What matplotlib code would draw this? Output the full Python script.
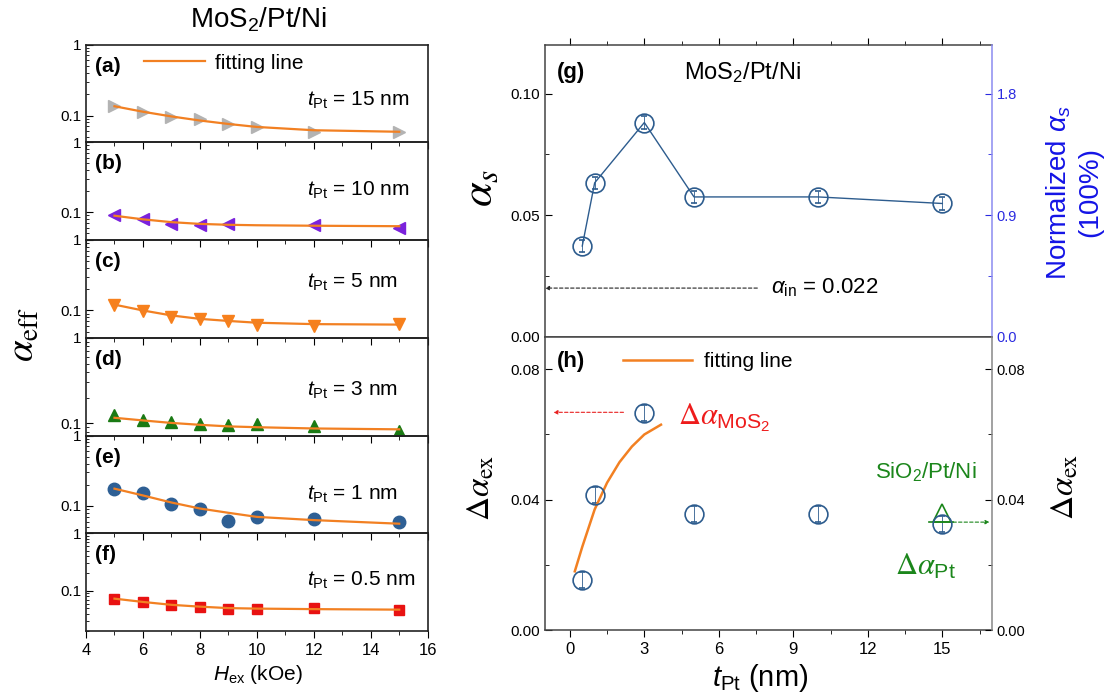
import matplotlib
matplotlib.use("Agg")
import matplotlib.pyplot as plt
from matplotlib import ticker

plt.rcParams['font.family'] = ['Liberation Sans', 'DejaVu Sans']
plt.rcParams['mathtext.fontset'] = 'custom'
plt.rcParams['mathtext.rm'] = 'Liberation Sans'
plt.rcParams['mathtext.it'] = 'Liberation Sans:italic'
plt.rcParams['mathtext.bf'] = 'Liberation Sans:bold'

# ---- data: left panels, alpha_eff vs H_ex ----
H_ex = [5, 6, 7, 8, 9, 10, 12, 15]
H_ex_b = [5, 6, 7, 8, 9, 12, 15]
a_15 = [0.138, 0.111, 0.095, 0.090, 0.076, 0.068, 0.059, 0.059]
a_10 = [0.091, 0.081, 0.068, 0.065, 0.068, 0.065, 0.060]
a_5 = [0.121, 0.098, 0.082, 0.076, 0.070, 0.063, 0.061, 0.064]
a_3 = [0.125, 0.108, 0.104, 0.099, 0.095, 0.097, 0.093, 0.081]
a_1 = [0.176, 0.153, 0.108, 0.092, 0.062, 0.070, 0.066, 0.059]
a_05 = [0.073, 0.065, 0.056, 0.053, 0.048, 0.048, 0.050, 0.046]

fit_15 = [0.135, 0.113, 0.097, 0.085, 0.076, 0.069, 0.062, 0.059]
fit_10 = [0.089, 0.079, 0.072, 0.068, 0.066, 0.065, 0.064, 0.063]
fit_5 = [0.121, 0.100, 0.085, 0.076, 0.071, 0.067, 0.064, 0.063]
fit_3 = [0.116, 0.108, 0.101, 0.096, 0.092, 0.090, 0.087, 0.085]
fit_1 = [0.176, 0.141, 0.112, 0.092, 0.080, 0.070, 0.063, 0.056]
fit_05 = [0.073, 0.064, 0.057, 0.053, 0.050, 0.049, 0.048, 0.047]

panel_tags = ['(a)', '(b)', '(c)', '(d)', '(e)', '(f)']
thick_labels = ['15 nm', '10 nm', '5 nm', '3 nm', '1 nm', '0.5 nm']
bottoms = [0.042, 0.040, 0.041, 0.072, 0.041, 0.020]

# ---- data: right panels vs t_Pt ----
t_Pt = [0.5, 1, 3, 5, 10, 15]
alpha_s = [0.0373, 0.0633, 0.0881, 0.0575, 0.0575, 0.0548]
alpha_s_err = [0.0025, 0.0025, 0.0025, 0.0025, 0.0025, 0.0025]
d_alpha_ex = [0.0154, 0.0415, 0.0665, 0.0356, 0.0356, 0.0326]
d_alpha_err = [0.0025, 0.0025, 0.0025, 0.0025, 0.0025, 0.0025]
t_fit = [0.2, 0.5, 1.0, 1.5, 2.0, 2.5, 3.0, 3.67]
d_alpha_fit = [0.0180, 0.0255, 0.0370, 0.0452, 0.0515, 0.0563, 0.0600, 0.0630]
sio2_t = [15]
sio2_d_alpha = [0.036]
alpha_in = 0.02

orange = '#f28022'
blue_c = '#2d5c8e'
green = '#1b861b'

fig = plt.figure(figsize=(11.14, 7.0), dpi=100)

W, Hh = 1114.0, 700.0

def box(x0, y0, x1, y1):
    return [x0 / W, 1 - y1 / Hh, (x1 - x0) / W, (y1 - y0) / Hh]

series = [
    (H_ex, a_15, fit_15, '>', '#b3b3b3'),
    (H_ex_b, a_10, fit_10, '<', '#7b22dc'),
    (H_ex, a_5, fit_5, 'v', '#f7801c'),
    (H_ex, a_3, fit_3, '^', '#1a7a14'),
    (H_ex, a_1, fit_1, 'o', '#2e5f94'),
    (H_ex, a_05, fit_05, 's', '#e81212'),
]
text_y = [0.43, 0.51, 0.57, 0.46, 0.40, 0.52]

top0, ph = 44.5, 97.75
for i, (xs, ys, fy, mk, col) in enumerate(series):
    ax = fig.add_axes(box(86, top0 + i * ph, 427.7, top0 + (i + 1) * ph))
    ax.plot(xs, ys, linestyle='none', marker=mk, ms=9 if mk != 's' else 7.5,
            color=col, zorder=2)
    fl, = ax.plot(H_ex, fy, color=orange, lw=1.6, zorder=3)
    ax.set_yscale('log')
    ax.set_ylim(bottoms[i], 1)
    ax.set_xlim(4, 16)
    ax.yaxis.set_major_locator(ticker.FixedLocator([0.1, 1]))
    ax.yaxis.set_major_formatter(ticker.FuncFormatter(lambda v, p: f"{v:g}"))
    ax.yaxis.set_minor_locator(ticker.LogLocator(base=10, subs=range(2, 10)))
    ax.yaxis.set_minor_formatter(ticker.NullFormatter())
    ax.xaxis.set_major_locator(ticker.MultipleLocator(2))
    ax.xaxis.set_minor_locator(ticker.MultipleLocator(1))
    ax.tick_params(axis='y', which='both', direction='in', labelsize=11)
    ax.tick_params(axis='y', which='major', length=5)
    ax.tick_params(axis='y', which='minor', length=2.5)
    ax.tick_params(axis='x', which='both', direction='out', labelsize=12)
    ax.tick_params(axis='x', which='major', length=5)
    ax.tick_params(axis='x', which='minor', length=3)
    if i < 5:
        ax.tick_params(axis='x', labelbottom=False)
    for s in ax.spines.values():
        s.set_linewidth(1.2)
        s.set_color('#222222')
    ax.text(0.026, 0.78, panel_tags[i], transform=ax.transAxes, fontsize=15,
            fontweight='bold', va='center', ha='left')
    ax.text(0.647, text_y[i], r'$t_{\mathrm{Pt}}$ = ' + thick_labels[i],
            transform=ax.transAxes, fontsize=15, va='center', ha='left')
    if i == 0:
        fl.set_label('fitting line')
        ax.legend(loc='center left', bbox_to_anchor=(0.17, 0.81), frameon=False,
                  fontsize=15, handlelength=2.9, handletextpad=0.5,
                  borderpad=0, borderaxespad=0)
    ax.patch.set_alpha(0)

fig.text(258 / W, 1 - 20 / Hh, r'MoS$_2$/Pt/Ni', fontsize=20, ha='center', va='center')
fig.text(24 / W, 1 - 335 / Hh, r'$\alpha_{\mathrm{eff}}$', fontsize=28, rotation=90,
         ha='center', va='center', math_fontfamily='stix')
fig.text(258 / W, 1 - 675 / Hh, r'$H_{\mathrm{ex}}$ (kOe)', fontsize=15,
         ha='center', va='center')

# ---- panel (g) ----
axg = fig.add_axes(box(545, 45, 992, 336.7))
axg.errorbar(t_Pt, alpha_s, yerr=alpha_s_err, color=blue_c, lw=1.0, marker='o',
             ms=13.5, mfc='none', mec=blue_c, mew=1.2, elinewidth=0.6, capsize=2.5,
             capthick=0.6)
axg.set_xlim(-1, 17)
axg.set_ylim(0, 0.12)
axg.xaxis.set_major_locator(ticker.MultipleLocator(3))
axg.xaxis.set_minor_locator(ticker.MultipleLocator(1.5))
axg.yaxis.set_major_locator(ticker.FixedLocator([0, 0.05, 0.10]))
axg.yaxis.set_major_formatter(ticker.FormatStrFormatter('%.2f'))
axg.yaxis.set_minor_locator(ticker.MultipleLocator(0.025))
axg.tick_params(axis='x', which='both', direction='out', labelbottom=False, top=True)
axg.tick_params(axis='y', which='both', direction='in', labelsize=11)
axg.tick_params(which='major', length=5)
axg.tick_params(which='minor', length=3)
axg.spines['right'].set_visible(False)
for s in ['left', 'top', 'bottom']:
    axg.spines[s].set_color('#444444')
    axg.spines[s].set_linewidth(1.1)
axg.annotate('', xy=(-1, alpha_in), xytext=(7.55, alpha_in),
             arrowprops=dict(arrowstyle='-|>', linestyle=(0, (3, 2)), lw=0.8,
                             color='#222222', mutation_scale=6, shrinkA=0, shrinkB=0))
axg.text(8.1, alpha_in, r'$\alpha_{\mathrm{in}}$ = 0.022', fontsize=16,
         ha='left', va='center')
axg.text(-0.53, 0.1087, '(g)', fontsize=16, fontweight='bold', ha='left', va='center')
axg.text(4.6, 0.1087, r'MoS$_2$/Pt/Ni', fontsize=17, ha='left', va='center')

axg2 = axg.twinx()
axg2.set_ylim(0, 2.16)
axg2.yaxis.set_major_locator(ticker.FixedLocator([0, 0.9, 1.8]))
axg2.yaxis.set_major_formatter(ticker.FormatStrFormatter('%.1f'))
axg2.yaxis.set_minor_locator(ticker.MultipleLocator(0.45))
axg2.tick_params(axis='y', which='both', direction='in', colors='#2a2ae0',
                 labelsize=10.5)
axg2.tick_params(which='major', length=5)
axg2.tick_params(which='minor', length=3)
axg2.spines['right'].set_color('#8c8cf0')
axg2.spines['right'].set_linewidth(1.1)
for s in ['left', 'top', 'bottom']:
    axg2.spines[s].set_visible(False)

fig.text(481 / W, 1 - 188 / Hh, r'$\alpha_s$', fontsize=32, rotation=90,
         ha='center', va='center', math_fontfamily='stix')
fig.text(1074 / W, 1 - 192 / Hh, 'Normalized ' + r'$\alpha_s$' + '\n(100%)',
         fontsize=20, rotation=90, ha='center', va='center', color='#1414e6',
         multialignment='center', linespacing=1.2)

# ---- panel (h) ----
axh = fig.add_axes(box(545, 336.7, 992, 630))
axh.errorbar(t_Pt, d_alpha_ex, yerr=d_alpha_err, color=blue_c, linestyle='none',
             marker='o', ms=13.5, mfc='none', mec=blue_c, mew=1.2, elinewidth=0.6,
             capsize=2.5, capthick=0.6)
axh.plot(t_fit, d_alpha_fit, color=orange, lw=1.8, label='fitting line')
axh.plot(sio2_t, sio2_d_alpha, linestyle='none', marker='^', ms=13, mfc='none',
         mec=green, mew=1.2)
axh.set_xlim(-1, 17)
axh.set_ylim(0, 0.09)
axh.xaxis.set_major_locator(ticker.MultipleLocator(3))
axh.xaxis.set_minor_locator(ticker.MultipleLocator(1.5))
axh.yaxis.set_major_locator(ticker.FixedLocator([0, 0.04, 0.08]))
axh.yaxis.set_major_formatter(ticker.FormatStrFormatter('%.2f'))
axh.yaxis.set_minor_locator(ticker.MultipleLocator(0.02))
axh.tick_params(axis='x', which='both', direction='out', labelsize=12)
axh.tick_params(axis='y', which='both', direction='in', labelsize=11)
axh.tick_params(which='major', length=5)
axh.tick_params(which='minor', length=3)
axh.spines['right'].set_visible(False)
for s in ['left', 'top', 'bottom']:
    axh.spines[s].set_color('#444444')
    axh.spines[s].set_linewidth(1.1)
axh.legend(loc='center left', bbox_to_anchor=(0.1745, 0.914), frameon=False,
           fontsize=15, handlelength=3.3, handletextpad=0.58, borderpad=0,
           borderaxespad=0)
axh.text(-0.53, 0.0825, '(h)', fontsize=16, fontweight='bold', ha='left', va='center')

# red arrow to left axis
axh.annotate('', xy=(-0.66, 0.0668), xytext=(2.16, 0.0668),
             arrowprops=dict(arrowstyle='-|>', linestyle=(0, (3, 2)), lw=0.8,
                             color='#e82020', mutation_scale=6, shrinkA=0, shrinkB=0))
axh.text(4.37, 0.0652, r'$\Delta\alpha_{\mathregular{MoS_2}}$', fontsize=22,
         color='#ee1c1c', ha='left', va='center', math_fontfamily='stix')
# green arrow to right axis
axh.plot([14.45, 15.43], [0.0331, 0.0331], color=green, lw=1.2)
axh.annotate('', xy=(16.9, 0.0331), xytext=(15.43, 0.0331),
             arrowprops=dict(arrowstyle='-|>', linestyle=(0, (3, 2)), lw=0.8,
                             color=green, mutation_scale=6, shrinkA=0, shrinkB=0))
axh.text(12.28, 0.0483, r'SiO$_2$/Pt/Ni', fontsize=16, color=green,
         ha='left', va='center')
axh.text(13.1, 0.0194, r'$\Delta\alpha_{\mathregular{Pt}}$', fontsize=22,
         color=green, ha='left', va='center', math_fontfamily='stix')

axh2 = axh.twinx()
axh2.set_ylim(0, 0.09)
axh2.yaxis.set_major_locator(ticker.FixedLocator([0, 0.04, 0.08]))
axh2.yaxis.set_major_formatter(ticker.FormatStrFormatter('%.2f'))
axh2.yaxis.set_minor_locator(ticker.MultipleLocator(0.02))
axh2.tick_params(axis='y', which='both', direction='in', labelsize=10.5)
axh2.tick_params(which='major', length=5)
axh2.tick_params(which='minor', length=3)
axh2.spines['right'].set_color('#888888')
axh2.spines['right'].set_linewidth(1.1)
for s in ['left', 'top', 'bottom']:
    axh2.spines[s].set_visible(False)

fig.text(481 / W, 1 - 488 / Hh, r'$\Delta\alpha_{\mathrm{ex}}$', fontsize=24,
         rotation=90, ha='center', va='center', math_fontfamily='stix')
fig.text(1065 / W, 1 - 487 / Hh, r'$\Delta\alpha_{\mathrm{ex}}$', fontsize=24,
         rotation=90, ha='center', va='center', math_fontfamily='stix')
fig.text(760 / W, 1 - 678 / Hh, r'$t_{\mathrm{Pt}}$ (nm)', fontsize=21,
         ha='center', va='center')

fig.savefig('out.png', dpi=100)
